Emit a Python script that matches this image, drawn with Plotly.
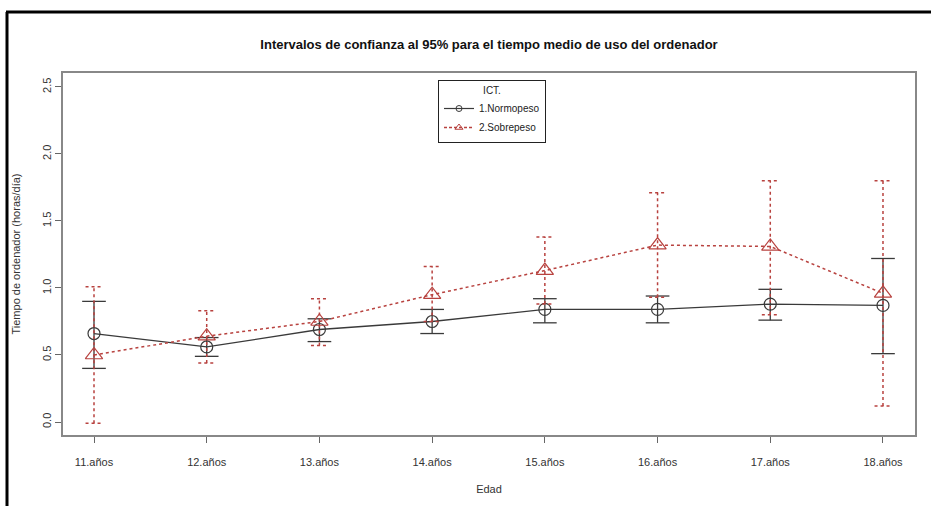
import plotly.graph_objects as go

categories = ["11.años", "12.años", "13.años", "14.años", "15.años", "16.años", "17.años", "18.años"]
y_ticks = [0.0, 0.5, 1.0, 1.5, 2.0, 2.5]
y_tick_labels = ["0.0", "0.5", "1.0", "1.5", "2.0", "2.5"]

normo_mean = [0.66, 0.56, 0.69, 0.75, 0.84, 0.84, 0.88, 0.87]
normo_low = [0.40, 0.49, 0.60, 0.66, 0.74, 0.74, 0.76, 0.51]
normo_high = [0.90, 0.63, 0.77, 0.84, 0.92, 0.94, 0.99, 1.22]

sobre_mean = [0.50, 0.64, 0.75, 0.95, 1.13, 1.32, 1.31, 0.96]
sobre_low = [-0.01, 0.44, 0.57, 0.75, 0.88, 0.93, 0.80, 0.12]
sobre_high = [1.01, 0.83, 0.92, 1.16, 1.38, 1.71, 1.80, 1.80]

BLACK = "#3a3a3a"
RED = "#b8423f"
CAP = 0.075  # cap half-width in category units

x = list(range(len(categories)))


def ci_path(lo, hi, half):
    xs, ys = [], []
    for i, (a, b) in enumerate(zip(lo, hi)):
        xs += [i, i, None, i - half, i + half, None, i - half, i + half, None]
        ys += [a, b, None, a, a, None, b, b, None]
    return xs, ys


fig = go.Figure()

bx, by = ci_path(normo_low, normo_high, CAP * 1.4)
fig.add_trace(go.Scatter(x=bx, y=by, mode="lines", line=dict(color=BLACK, width=1.3),
                         showlegend=False, hoverinfo="skip"))
fig.add_trace(go.Scatter(x=x, y=normo_mean, mode="lines+markers",
                         line=dict(color=BLACK, width=1.3),
                         marker=dict(symbol="circle-open", size=12, color=BLACK, line=dict(width=1.2)),
                         showlegend=False))

rx, ry = ci_path(sobre_low, sobre_high, CAP)
fig.add_trace(go.Scatter(x=rx, y=ry, mode="lines", line=dict(color=RED, width=1.5, dash="3px,3px"),
                         showlegend=False, hoverinfo="skip"))
fig.add_trace(go.Scatter(x=x, y=sobre_mean, mode="lines+markers",
                         line=dict(color=RED, width=1.5, dash="3px,3px"),
                         marker=dict(symbol="triangle-up-open", size=15, color=RED, line=dict(width=1.2)),
                         showlegend=False))

# legend entries
fig.add_trace(go.Scatter(x=[None], y=[None], mode="lines+markers", name="1.Normopeso",
                         line=dict(color=BLACK, width=1.2),
                         marker=dict(symbol="circle-open", size=6, color=BLACK)))
fig.add_trace(go.Scatter(x=[None], y=[None], mode="lines+markers", name="2.Sobrepeso",
                         line=dict(color=RED, width=1.3, dash="3px,2px"),
                         marker=dict(symbol="triangle-up-open", size=7, color=RED)))

L, R, T, B = 63, 915, 73, 435
W, H = 931, 506
pw, ph = R - L, B - T


def px(v):
    return (v - L) / pw


def py(v):
    return (B - v) / ph


fig.update_layout(
    width=W, height=H,
    margin=dict(l=L, r=W - R, t=T, b=H - B, autoexpand=False),
    paper_bgcolor="white", plot_bgcolor="white",
    font=dict(family="Liberation Sans, Arial, sans-serif", size=11, color="#333"),
    title=dict(text="<b>Intervalos de confianza al 95% para el tiempo medio de uso del ordenador</b>",
               x=0.5, xref="paper", xanchor="center", y=1 - 44 / H, yanchor="middle",
               font=dict(size=13, color="#111")),
    legend=dict(x=px(438), y=py(80), xanchor="left", yanchor="top",
                bgcolor="white", bordercolor="#222", borderwidth=1,
                font=dict(size=10, color="#222"), itemwidth=30, tracegroupgap=0,
                title=dict(text="ICT.", side="top center", font=dict(size=10, color="#222"))),
    xaxis=dict(range=[-0.275, 7.284], tickvals=x, ticktext=categories, automargin=False,
               showgrid=False, zeroline=False, showline=True, mirror=True,
               linecolor="#888", linewidth=1.5, ticks="outside", ticklen=6, tickcolor="#666",
               ticklabelstandoff=10,
               title=dict(text="Edad", standoff=18, font=dict(size=11, color="#333"))),
    yaxis=dict(range=[-0.097, 2.604], tickvals=y_ticks, ticktext=y_tick_labels, tickangle=-90,
               automargin=False,
               showgrid=False, zeroline=False, showline=True, mirror=True,
               linecolor="#888", linewidth=1.5, ticks="outside", ticklen=6, tickcolor="#666",
               title=dict(text="Tiempo de ordenador (horas/día)", standoff=18, font=dict(size=11, color="#333"))),
    shapes=[
        dict(type="line", xref="paper", yref="paper", x0=px(7), x1=px(7), y0=py(12), y1=py(H + 5),
             line=dict(color="black", width=3)),
        dict(type="line", xref="paper", yref="paper", x0=px(6), x1=px(W + 5), y0=py(12), y1=py(12),
             line=dict(color="black", width=3)),
    ],
)

fig.write_html("out.html", config={"displayModeBar": False},
               post_script="document.body.style.margin='0';document.body.style.overflow='hidden';")
